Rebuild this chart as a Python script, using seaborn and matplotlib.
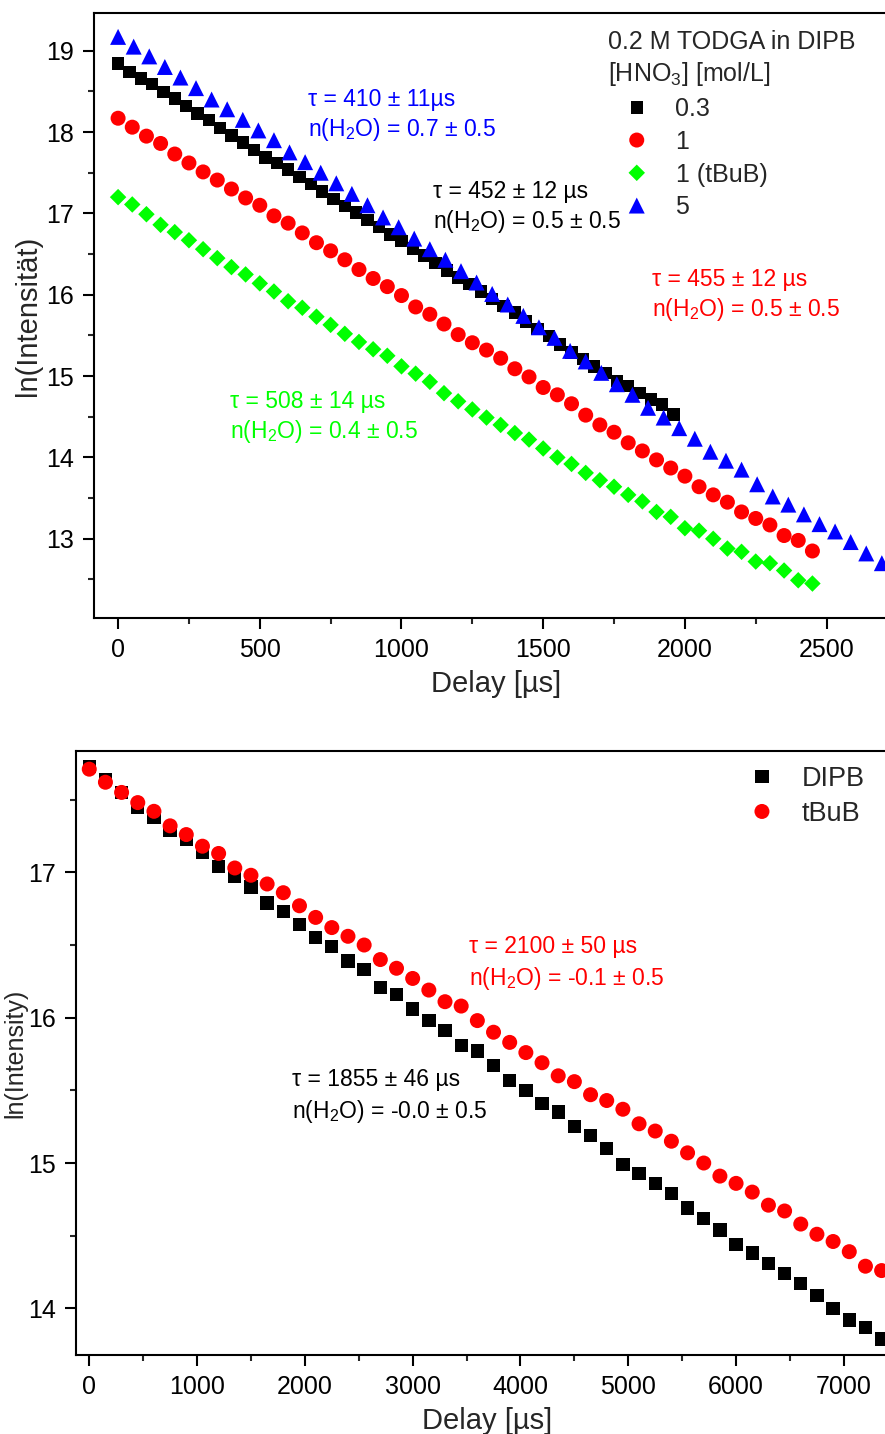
import matplotlib
matplotlib.use("Agg")
import matplotlib.pyplot as plt
import seaborn as sns
from matplotlib.ticker import MultipleLocator

# ---- top panel: 0.2 M TODGA in DIPB, different [HNO3] ----
delay_03 = [0, 40, 80, 120, 160, 200, 240, 280, 320, 360, 400, 440, 480, 520, 560, 600, 640,
            680, 720, 760, 800, 840, 880, 920, 960, 1000, 1040, 1080, 1120, 1160, 1200, 1240,
            1280, 1320, 1360, 1400, 1440, 1480, 1520, 1560, 1600, 1640, 1680, 1720, 1760, 1800,
            1840, 1880, 1920, 1960]
delay_1 = [0, 50, 100, 150, 200, 250, 300, 350, 400, 450, 500, 550, 600, 650, 700, 750, 800,
           850, 900, 950, 1000, 1050, 1100, 1150, 1200, 1250, 1300, 1350, 1400, 1450, 1500,
           1550, 1600, 1650, 1700, 1750, 1800, 1850, 1900, 1950, 2000, 2050, 2100, 2150, 2200,
           2250, 2300, 2350, 2400, 2450]
delay_5 = [0, 55, 110, 165, 220, 275, 330, 385, 440, 495, 550, 605, 660, 715, 770, 825, 880,
           935, 990, 1045, 1100, 1155, 1210, 1265, 1320, 1375, 1430, 1485, 1540, 1595, 1650,
           1705, 1760, 1815, 1870, 1925, 1980, 2035, 2090, 2145, 2200, 2255, 2310, 2365, 2420,
           2475, 2530, 2585, 2640, 2695]

ln_03 = [18.84, 18.74, 18.66, 18.59, 18.49, 18.41, 18.32, 18.23, 18.15, 18.05,
         17.96, 17.87, 17.78, 17.69, 17.62, 17.54, 17.45, 17.36, 17.27, 17.18,
         17.09, 17.01, 16.92, 16.83, 16.74, 16.66, 16.57, 16.48, 16.39, 16.30,
         16.21, 16.13, 16.04, 15.95, 15.86, 15.78, 15.67, 15.58, 15.49, 15.39,
         15.29, 15.21, 15.12, 15.04, 14.94, 14.88, 14.79, 14.71, 14.65, 14.53]
ln_1 = [18.17, 18.06, 17.95, 17.86, 17.73, 17.62, 17.51, 17.41, 17.30, 17.19,
        17.10, 16.97, 16.88, 16.76, 16.64, 16.54, 16.43, 16.31, 16.20, 16.10,
        15.99, 15.85, 15.76, 15.64, 15.51, 15.41, 15.32, 15.22, 15.09, 14.99,
        14.86, 14.77, 14.66, 14.52, 14.40, 14.31, 14.18, 14.08, 13.97, 13.87,
        13.77, 13.64, 13.54, 13.45, 13.33, 13.25, 13.17, 13.04, 12.98, 12.85]
ln_1_tbub = [17.20, 17.11, 16.99, 16.86, 16.77, 16.67, 16.56, 16.45, 16.34, 16.25,
             16.14, 16.04, 15.92, 15.84, 15.73, 15.63, 15.52, 15.42, 15.33, 15.25,
             15.12, 15.03, 14.93, 14.79, 14.69, 14.59, 14.49, 14.40, 14.30, 14.22,
             14.11, 14.00, 13.92, 13.81, 13.72, 13.64, 13.54, 13.46, 13.33, 13.27,
             13.13, 13.10, 13.00, 12.88, 12.84, 12.72, 12.70, 12.61, 12.49, 12.45]
ln_5 = [19.17, 19.05, 18.93, 18.80, 18.67, 18.54, 18.40, 18.28, 18.15, 18.02,
        17.90, 17.75, 17.63, 17.50, 17.37, 17.24, 17.10, 16.95, 16.83, 16.69,
        16.56, 16.43, 16.29, 16.15, 16.01, 15.88, 15.74, 15.60, 15.47, 15.31,
        15.18, 15.04, 14.90, 14.77, 14.61, 14.49, 14.36, 14.23, 14.07, 13.96,
        13.85, 13.67, 13.52, 13.42, 13.30, 13.18, 13.09, 12.96, 12.82, 12.70]

# series order: 0.3, 1, 1 (tBuB), 5
top_labels = ["0.3", "1", "1 (tBuB)", "5"]
top_colors = ['#000000', '#ff0000', '#00ff00', '#0000ff']
top_notes = [("\u03c4 = 452 \u00b1 12 \u00b5s", "n(H$_2$O) = 0.5 \u00b1 0.5"),
             ("\u03c4 = 455 \u00b1 12 \u00b5s", "n(H$_2$O) = 0.5 \u00b1 0.5"),
             ("\u03c4 = 508 \u00b1 14 \u00b5s", "n(H$_2$O) = 0.4 \u00b1 0.5"),
             ("\u03c4 = 410 \u00b1 11\u00b5s", "n(H$_2$O) = 0.7 \u00b1 0.5")]

# ---- bottom panel: DIPB vs tBuB ----
delay_solv = [0, 150, 300, 450, 600, 750, 900, 1050, 1200, 1350, 1500, 1650, 1800, 1950, 2100,
              2250, 2400, 2550, 2700, 2850, 3000, 3150, 3300, 3450, 3600, 3750, 3900, 4050,
              4200, 4350, 4500, 4650, 4800, 4950, 5100, 5250, 5400, 5550, 5700, 5850, 6000,
              6150, 6300, 6450, 6600, 6750, 6900, 7050, 7200, 7350]
ln_dipb = [17.73, 17.64, 17.55, 17.45, 17.38, 17.29, 17.23, 17.14, 17.04, 16.97,
           16.90, 16.79, 16.73, 16.64, 16.55, 16.49, 16.39, 16.33, 16.21, 16.16,
           16.06, 15.98, 15.91, 15.81, 15.77, 15.67, 15.57, 15.50, 15.41, 15.35,
           15.25, 15.19, 15.10, 14.99, 14.93, 14.86, 14.79, 14.69, 14.62, 14.54,
           14.44, 14.38, 14.31, 14.24, 14.17, 14.09, 14.00, 13.92, 13.87, 13.79]
ln_tbub = [17.71, 17.62, 17.55, 17.48, 17.42, 17.32, 17.26, 17.18, 17.13, 17.03,
           16.98, 16.92, 16.86, 16.77, 16.69, 16.62, 16.56, 16.50, 16.40, 16.34,
           16.27, 16.19, 16.11, 16.08, 15.98, 15.90, 15.83, 15.76, 15.69, 15.60,
           15.56, 15.47, 15.43, 15.37, 15.27, 15.22, 15.15, 15.07, 15.00, 14.91,
           14.86, 14.80, 14.71, 14.67, 14.58, 14.51, 14.46, 14.39, 14.29, 14.26]
bottom_labels = ["DIPB", "tBuB"]
bottom_colors = ['#000000', '#ff0000']
bottom_notes = [("\u03c4 = 1855 \u00b1 46 \u00b5s", "n(H$_2$O) = -0.0 \u00b1 0.5"),
                ("\u03c4 = 2100 \u00b1 50 \u00b5s", "n(H$_2$O) = -0.1 \u00b1 0.5")]

sns.set_style("ticks")
plt.rcParams['font.family'] = ['Liberation Sans', 'DejaVu Sans']
plt.rcParams['mathtext.fontset'] = 'custom'
plt.rcParams['mathtext.rm'] = 'Liberation Sans'
plt.rcParams['mathtext.default'] = 'regular'

W, H = 885, 1434
fig = plt.figure(figsize=(W / 100, H / 100), dpi=100)


def px(x, y):
    return x / W, 1 - y / H


def style_axes(ax):
    for sp in ax.spines.values():
        sp.set_linewidth(1.5)
        sp.set_color('black')
    ax.tick_params(which='major', direction='out', length=8, width=1.5,
                   labelsize=18, pad=6.5, colors='black')
    ax.tick_params(which='minor', direction='out', length=4.5, width=1.5)
    ax.tick_params(top=False, right=False, which='both')


# top panel
ax1 = fig.add_axes([94 / W, 1 - 617.7 / H, 804 / W, (617.7 - 13.3) / H])
top_x = [delay_03, delay_1, delay_1, delay_5]
top_y = [ln_03, ln_1, ln_1_tbub, ln_5]
top_markers = ['s', 'o', 'D', '^']
top_sizes = [9.0, 10.8, 8.4, 11.5]
for i in range(4):
    sns.scatterplot(x=top_x[i], y=top_y[i], ax=ax1, marker=top_markers[i],
                    s=top_sizes[i] ** 2, color=top_colors[i], edgecolor='none',
                    linewidth=0, label=top_labels[i], zorder=3 + (i == 3))
ax1.set_xlim(-85, 2752)
ax1.set_ylim(12.03, 19.46)
ax1.xaxis.set_major_locator(MultipleLocator(500))
ax1.xaxis.set_minor_locator(MultipleLocator(250))
ax1.yaxis.set_major_locator(MultipleLocator(1))
ax1.yaxis.set_minor_locator(MultipleLocator(0.5))
style_axes(ax1)
ax1.set_xlabel("Delay [\u00b5s]", fontsize=21)
ax1.set_ylabel("ln(Intensit\u00e4t)", fontsize=21)
ax1.xaxis.set_label_coords(0.5, -0.087)
ax1.yaxis.set_label_coords(-0.0645, 0.5)
leg1 = ax1.legend(title="0.2 M TODGA in DIPB\n[HNO$_3$] [mol/L]", loc='upper left',
                  bbox_to_anchor=px(608, 30), bbox_transform=fig.transFigure, frameon=False,
                  fontsize=18, title_fontsize=18, alignment='left', handlelength=2.3,
                  handletextpad=0.4, labelspacing=0.35, borderpad=0, borderaxespad=0,
                  scatteryoffsets=[0.5])
leg1.get_title().set_linespacing(1.3)

top_note_pos = [(433, 198.4), (652, 285.7), (230, 408.4), (308, 105.7)]
for (l1, l2), c, (x, y) in zip(top_notes, top_colors, top_note_pos):
    fig.text(*px(x, y), l1, color=c, fontsize=16.5, va='baseline', ha='left')
    fig.text(*px(x, y + 30), l2, color=c, fontsize=16.5, va='baseline', ha='left')

# bottom panel
ax2 = fig.add_axes([76 / W, 1 - 1355.3 / H, 822 / W, (1355.3 - 751) / H])
bottom_y = [ln_dipb, ln_tbub]
bottom_markers = ['s', 'o']
bottom_sizes = [9.6, 10.8]
for i in range(2):
    sns.scatterplot(x=delay_solv, y=bottom_y[i], ax=ax2, marker=bottom_markers[i],
                    s=bottom_sizes[i] ** 2, color=bottom_colors[i], edgecolor='none',
                    linewidth=0, label=bottom_labels[i], zorder=3 + i)
ax2.set_xlim(-123, 7502)
ax2.set_ylim(13.677, 17.835)
ax2.xaxis.set_major_locator(MultipleLocator(1000))
ax2.xaxis.set_minor_locator(MultipleLocator(500))
ax2.yaxis.set_major_locator(MultipleLocator(1))
ax2.yaxis.set_minor_locator(MultipleLocator(0.5))
style_axes(ax2)
ax2.set_xlabel("Delay [\u00b5s]", fontsize=21)
# the reference label sits right at the left edge; a bit smaller so it fits
ax2.set_ylabel("ln(Intensity)", fontsize=18)
ax2.xaxis.set_label_coords(0.5, -0.086)
ax2.yaxis.set_label_coords(-0.059, 0.5)
ax2.legend(loc='upper left', bbox_to_anchor=px(743, 766), bbox_transform=fig.transFigure,
           frameon=False, fontsize=19.5, handlelength=1.4, handletextpad=0.78,
           labelspacing=0.33, borderpad=0, borderaxespad=0, scatteryoffsets=[0.5])

for (l1, l2), c, (x, y) in zip(bottom_notes, bottom_colors, [(292, 1085.7), (469, 952.7)]):
    fig.text(*px(x, y), l1, color=c, fontsize=16.5, va='baseline', ha='left')
    fig.text(*px(x, y + 32.5), l2, color=c, fontsize=16.5, va='baseline', ha='left')

fig.savefig("out.png", dpi=100)
